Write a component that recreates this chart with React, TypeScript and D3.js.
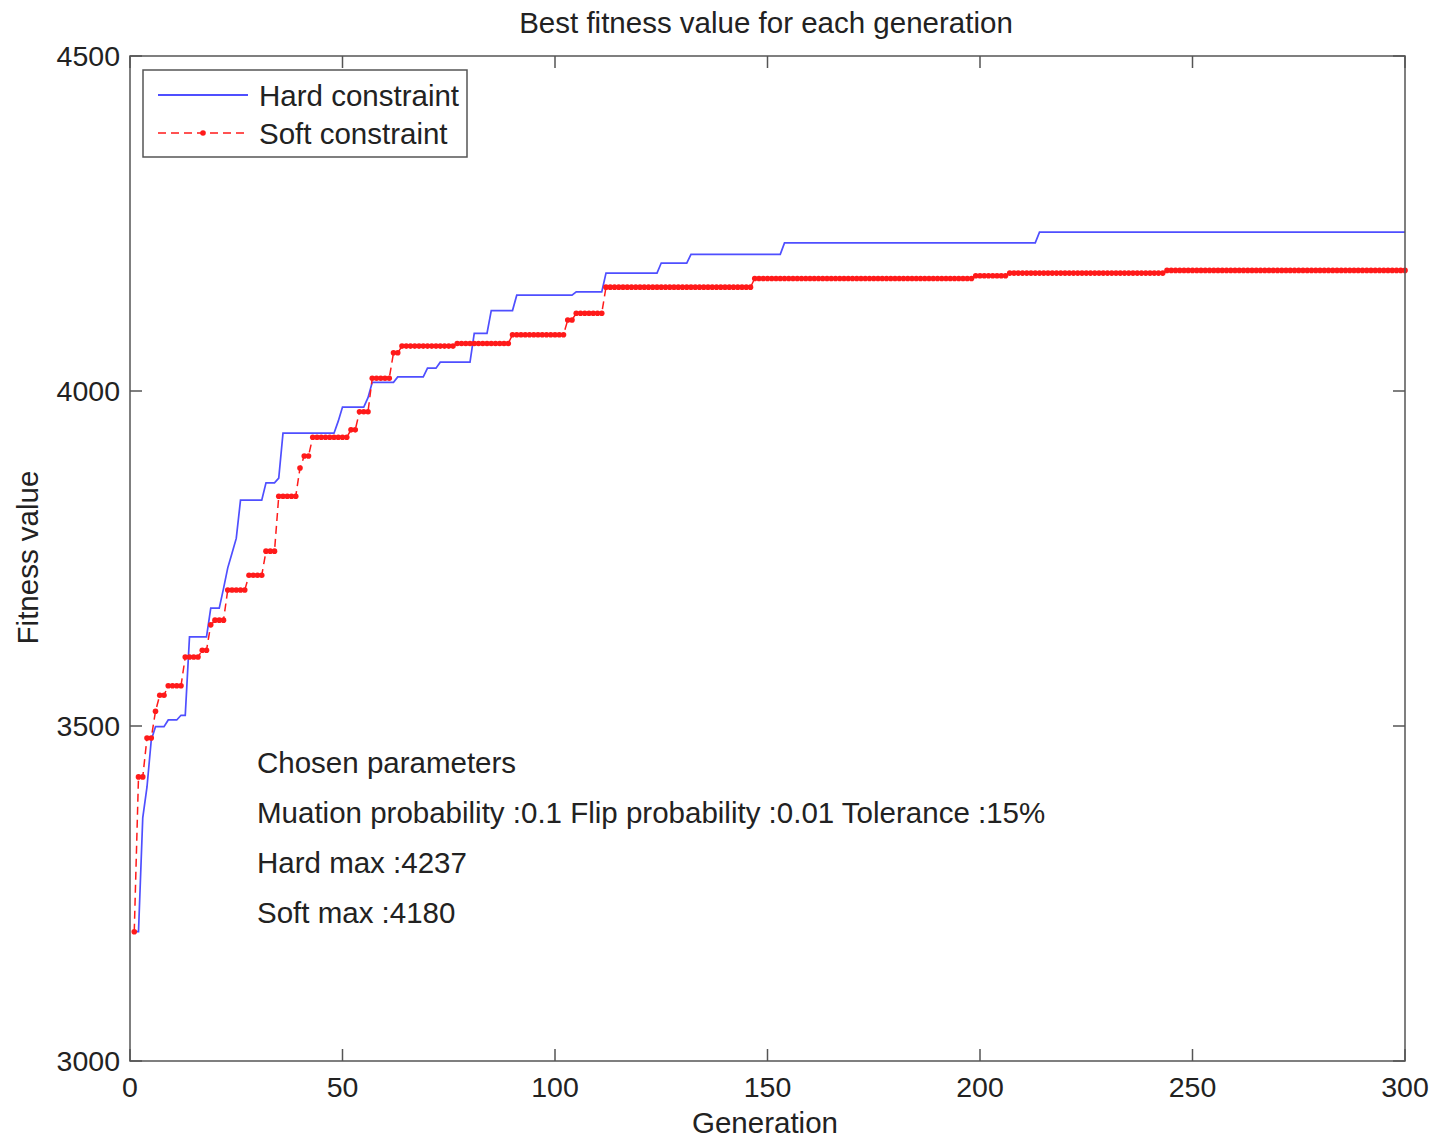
import React from "react";
import * as d3 from "d3";

// Step change points (generation where a new best value starts, value)
const hardGen = [1, 3, 4, 5, 6, 9, 12, 14, 19, 22, 23, 24, 25, 26, 32, 35, 36, 49, 50, 56, 57, 63, 70, 73, 81, 85, 91, 105, 112, 125, 132, 154, 214];
const hardVal = [3193, 3363, 3409, 3479, 3499, 3509, 3516, 3633, 3676, 3705, 3736, 3758, 3780, 3837, 3863, 3870, 3937, 3955, 3976, 3990, 4013, 4021, 4034, 4043, 4086, 4120, 4143, 4148, 4176, 4191, 4204, 4221, 4237];

const softGen = [1, 2, 4, 6, 7, 9, 13, 17, 19, 20, 23, 28, 32, 35, 40, 41, 43, 52, 54, 57, 62, 64, 77, 90, 103, 105, 112, 147, 199, 207, 244];
const softVal = [3193, 3424, 3482, 3522, 3546, 3560, 3603, 3613, 3651, 3658, 3703, 3725, 3761, 3843, 3885, 3903, 3931, 3942, 3969, 4019, 4057, 4067, 4071, 4084, 4106, 4116, 4155, 4168, 4172, 4176, 4180];

const generations = d3.range(1, 301);
const xTicks = [0, 50, 100, 150, 200, 250, 300];
const yTicks = [3000, 3500, 4000, 4500];

const titleText = "Best fitness value for each generation";
const xLabel = "Generation";
const yLabel = "Fitness value";
const legendLabels = ["Hard constraint", "Soft constraint"];
const noteLines = [
  "Chosen parameters",
  "Muation probability :0.1 Flip probability :0.01 Tolerance :15%",
  "Hard max :4237",
  "Soft max :4180",
];

function expand(gens: number[], vals: number[]) {
  return generations.map((g) => {
    let v = vals[0];
    for (let i = 0; i < gens.length; i++) if (gens[i] <= g) v = vals[i];
    return { g, v };
  });
}

const hardSeries = expand(hardGen, hardVal);
const softSeries = expand(softGen, softVal);

const W = 1437;
const H = 1139;
const M = { left: 130, right: 1405, top: 56, bottom: 1061 };
const FONT = "'Liberation Sans', Arial, sans-serif";
const AX = "#555";
const BLUE = "#4f4fff";
const RED = "#ff1a1a";
const FS = 29.5;
const TFS = 28.5;

export default function App() {
  const x = d3.scaleLinear().domain([0, 300]).range([M.left, M.right]);
  const y = d3.scaleLinear().domain([3000, 4500]).range([M.bottom, M.top]);
  const line = d3
    .line<{ g: number; v: number }>()
    .x((d) => x(d.g))
    .y((d) => y(d.v));
  const tl = 12;
  return (
    <svg
      width={W}
      height={H}
      style={{ position: "absolute", left: 0, top: 0, background: "#fff" }}
      fontFamily={FONT}
    >
      <rect x={0} y={0} width={W} height={H} fill="#fff" />
      {/* series */}
      <path d={line(hardSeries) || ""} fill="none" stroke={BLUE} strokeWidth={1.7} />
      <path
        d={line(softSeries) || ""}
        fill="none"
        stroke={RED}
        strokeWidth={1.5}
        strokeDasharray="8,5"
      />
      {softSeries.map((d) => (
        <circle key={d.g} cx={x(d.g)} cy={y(d.v)} r={2.8} fill={RED} />
      ))}
      {/* box */}
      <rect
        x={M.left}
        y={M.top}
        width={M.right - M.left}
        height={M.bottom - M.top}
        fill="none"
        stroke={AX}
        strokeWidth={1.5}
      />
      {xTicks.map((t) => (
        <g key={"x" + t}>
          <line x1={x(t)} x2={x(t)} y1={M.bottom} y2={M.bottom - tl} stroke={AX} strokeWidth={1.5} />
          <line x1={x(t)} x2={x(t)} y1={M.top} y2={M.top + tl} stroke={AX} strokeWidth={1.5} />
          <text x={x(t)} y={M.bottom + 36} textAnchor="middle" fontSize={TFS} fill="#222">
            {t}
          </text>
        </g>
      ))}
      {yTicks.map((t) => (
        <g key={"y" + t}>
          <line x1={M.left} x2={M.left + tl} y1={y(t)} y2={y(t)} stroke={AX} strokeWidth={1.5} />
          <line x1={M.right} x2={M.right - tl} y1={y(t)} y2={y(t)} stroke={AX} strokeWidth={1.5} />
          <text x={M.left - 10} y={y(t) + 10} textAnchor="end" fontSize={TFS} fill="#222">
            {t}
          </text>
        </g>
      ))}
      <text x={766} y={33} textAnchor="middle" fontSize={FS} fill="#222">
        {titleText}
      </text>
      <text x={765} y={1133} textAnchor="middle" fontSize={FS} fill="#222">
        {xLabel}
      </text>
      <text
        transform={`translate(38, ${(M.top + M.bottom) / 2 - 1}) rotate(-90)`}
        textAnchor="middle"
        fontSize={FS}
        fill="#222"
      >
        {yLabel}
      </text>
      {/* legend */}
      <rect x={143} y={70} width={324} height={87} fill="#fff" stroke={AX} strokeWidth={1.5} />
      <line x1={158} x2={248} y1={95} y2={95} stroke={BLUE} strokeWidth={2} />
      <line x1={158} x2={248} y1={133} y2={133} stroke={RED} strokeWidth={1.4} strokeDasharray="8,5" />
      <circle cx={203} cy={133} r={2.8} fill={RED} />
      {legendLabels.map((l, i) => (
        <text key={l} x={259} y={106 + i * 38} fontSize={FS} fill="#222">
          {l}
        </text>
      ))}
      {/* annotations */}
      {noteLines.map((l, i) => (
        <text key={l} x={257} y={773 + i * 50} fontSize={FS} fill="#222">
          {l}
        </text>
      ))}
    </svg>
  );
}
